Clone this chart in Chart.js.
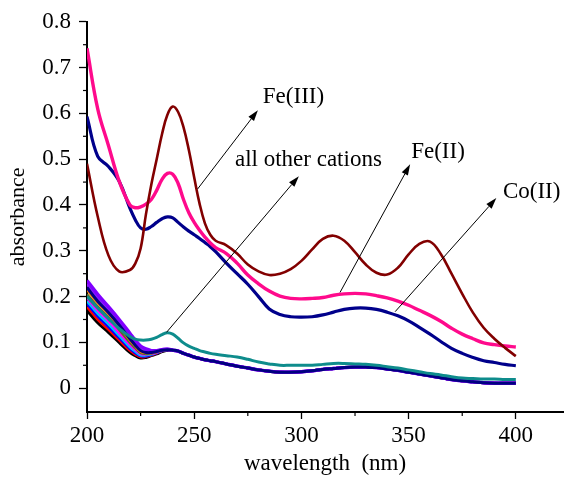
<!DOCTYPE html>
<html lang="en">
<head>
<meta charset="utf-8">
<title>Absorbance spectra</title>
<script src="https://cdn.jsdelivr.net/npm/chart.js@4.4.1/dist/chart.umd.min.js"></script>
<style>
    html, body { margin: 0; padding: 0; background: #fff; }
    #wrap { width: 564px; height: 478px; }
</style>
</head>
<body>
<div id="wrap"><canvas id="spectra" width="564" height="478"></canvas></div>
<script>
// wavelength grid (nm), finer around the 240 nm band
const wavelengths = [200, 205, 210, 215, 220, 222.5, 225, 227.5, 230, 232.5, 235, 237.5, 240, 242.5, 245, 247.5, 250, 252.5, 255, 257.5,
    260, 265, 270, 275, 280, 285, 290, 295, 300, 305, 310, 315, 320, 325, 330, 335, 340, 345, 350, 355, 360, 365, 370, 375, 380, 385, 390, 395, 400];

const fe3 = [0.49, 0.375, 0.29, 0.255, 0.258, 0.272, 0.305, 0.38, 0.445, 0.5, 0.555, 0.597, 0.615, 0.603, 0.57, 0.52, 0.46, 0.403, 0.36, 0.335,
    0.322, 0.312, 0.294, 0.27, 0.255, 0.247, 0.25, 0.26, 0.278, 0.303, 0.326, 0.333, 0.322, 0.297, 0.27, 0.252, 0.248, 0.263, 0.292, 0.315,
    0.32, 0.293, 0.25, 0.206, 0.165, 0.132, 0.108, 0.088, 0.07];
const fe2 = [0.742, 0.61, 0.53, 0.452, 0.40, 0.394, 0.396, 0.402, 0.412, 0.432, 0.456, 0.469, 0.467, 0.447, 0.412, 0.383, 0.362, 0.345, 0.33, 0.317,
    0.307, 0.294, 0.273, 0.247, 0.228, 0.212, 0.201, 0.196, 0.195, 0.196, 0.198, 0.203, 0.206, 0.207, 0.206, 0.202, 0.197, 0.19, 0.181, 0.17,
    0.159, 0.146, 0.131, 0.118, 0.108, 0.099, 0.095, 0.092, 0.09];
const co2 = [0.593, 0.506, 0.484, 0.452, 0.393, 0.368, 0.35, 0.347, 0.353, 0.362, 0.37, 0.374, 0.372, 0.362, 0.352, 0.343, 0.335, 0.327, 0.318, 0.309,
    0.298, 0.273, 0.25, 0.227, 0.2, 0.173, 0.161, 0.156, 0.155, 0.156, 0.16, 0.166, 0.172, 0.175, 0.175, 0.172, 0.166, 0.158, 0.147, 0.133,
    0.118, 0.102, 0.087, 0.076, 0.067, 0.06, 0.056, 0.052, 0.049];
const tealCation = [0.2, 0.175, 0.152, 0.13, 0.113, 0.107, 0.105, 0.105, 0.107, 0.111, 0.117, 0.121, 0.118, 0.109, 0.099, 0.092, 0.087, 0.082, 0.079, 0.076,
    0.074, 0.071, 0.068, 0.063, 0.057, 0.053, 0.05, 0.05, 0.05, 0.05, 0.052, 0.054, 0.054, 0.053, 0.052, 0.05, 0.047, 0.044, 0.04, 0.036,
    0.032, 0.029, 0.025, 0.022, 0.021, 0.02, 0.02, 0.019, 0.019];

// other cations: separate starts (200-237.5 nm), common tail (240-400 nm)
const otherTail = [0.083, 0.081, 0.076, 0.072, 0.068, 0.065, 0.062, 0.06, 0.058, 0.053, 0.048, 0.044, 0.04, 0.037, 0.035, 0.035, 0.036, 0.038, 0.041,
    0.043, 0.045, 0.046, 0.046, 0.045, 0.042, 0.039, 0.035, 0.031, 0.027, 0.023, 0.019, 0.016, 0.014, 0.012, 0.011, 0.011, 0.011];
const navyHead    = [0.22, 0.19, 0.165, 0.138, 0.108, 0.094, 0.082, 0.078, 0.078, 0.08, 0.083, 0.084];
const violetHead  = [0.235, 0.205, 0.178, 0.15, 0.12, 0.105, 0.092, 0.086, 0.082, 0.082, 0.084, 0.085];
const violet2Head = [0.228, 0.198, 0.172, 0.145, 0.115, 0.1, 0.088, 0.083, 0.08, 0.081, 0.084, 0.085];
const orangeHead  = [0.215, 0.186, 0.162, 0.135, 0.105, 0.092, 0.08, 0.077, 0.077, 0.079, 0.083, 0.084];
const oliveHead   = [0.205, 0.178, 0.155, 0.128, 0.1, 0.088, 0.077, 0.075, 0.076, 0.079, 0.082, 0.084];
const magentaHead = [0.197, 0.17, 0.147, 0.121, 0.095, 0.084, 0.075, 0.074, 0.075, 0.078, 0.082, 0.084];
const cyanHead    = [0.19, 0.163, 0.14, 0.115, 0.09, 0.08, 0.072, 0.072, 0.074, 0.078, 0.082, 0.084];
const blueHead    = [0.184, 0.157, 0.134, 0.11, 0.086, 0.077, 0.07, 0.07, 0.073, 0.077, 0.081, 0.083];
const redHead     = [0.177, 0.15, 0.128, 0.105, 0.082, 0.074, 0.068, 0.069, 0.072, 0.076, 0.081, 0.083];
const blackHead   = [0.17, 0.143, 0.122, 0.1, 0.078, 0.071, 0.066, 0.067, 0.071, 0.075, 0.08, 0.083];

const xTicks = [200, 250, 300, 350, 400];
const xMinorTicks = [225, 275, 325, 375];
const yTicks = [0, 0.1, 0.2, 0.3, 0.4, 0.5, 0.6, 0.7, 0.8];
const yMinorTicks = [0.05, 0.15, 0.25, 0.35, 0.45, 0.55, 0.65, 0.75];

const notes = [
    { text: 'Fe(III)', x: 282, y: 0.623, from: [251.6, 0.435], to: [279.7, 0.607] },
    { text: 'all other cations', x: 269, y: 0.485, from: [237.1, 0.122], to: [298.8, 0.463] },
    { text: 'Fe(II)', x: 351.2, y: 0.503, from: [318, 0.209], to: [350.7, 0.489] },
    { text: 'Co(II)', x: 394, y: 0.416, from: [343.7, 0.167], to: [390.9, 0.415] }
];

const serif = "'Liberation Serif', 'Times New Roman', serif";

function pts(ys) {
    return ys.map(function (v, i) { return { x: wavelengths[i], y: v }; });
}

function line(ys, color, width) {
    return {
        data: pts(ys),
        borderColor: color,
        borderWidth: width,
        pointRadius: 0,
        fill: false,
        tension: 0.4
    };
}

// first dataset ends up on top
const datasets = [
    line(fe3, '#820000', 2.6),
    line(fe2, '#ff0a8c', 3.4),
    line(co2, '#00008b', 3.2),
    line(tealCation, '#0e8c8c', 3),
    line(navyHead.concat(otherTail), '#000080', 3),
    line(violetHead.concat(otherTail), '#8000ff', 3.4),
    line(violet2Head.concat(otherTail), '#8c1aff', 3.4),
    line(orangeHead.concat(otherTail), '#ff8000', 2.6),
    line(oliveHead.concat(otherTail), '#556b2f', 2.6),
    line(magentaHead.concat(otherTail), '#ff00ff', 2.6),
    line(cyanHead.concat(otherTail), '#00bfff', 2.6),
    line(blueHead.concat(otherTail), '#0000ff', 2.6),
    line(redHead.concat(otherTail), '#ff0000', 2.6),
    line(blackHead.concat(otherTail), '#000000', 3)
];

const extras = {
    id: 'extras',
    afterDraw: function (chart) {
        const ctx = chart.ctx;
        const xs = chart.scales.x, ys = chart.scales.y;
        const area = chart.chartArea;
        ctx.save();
        // minor ticks
        ctx.strokeStyle = '#000';
        ctx.lineWidth = 1.2;
        xMinorTicks.forEach(function (v) {
            const px = xs.getPixelForValue(v);
            ctx.beginPath();
            ctx.moveTo(px, area.bottom);
            ctx.lineTo(px, area.bottom + 4);
            ctx.stroke();
        });
        yMinorTicks.forEach(function (v) {
            const py = ys.getPixelForValue(v);
            ctx.beginPath();
            ctx.moveTo(area.left, py);
            ctx.lineTo(area.left - 4, py);
            ctx.stroke();
        });
        // arrows + labels
        ctx.lineWidth = 1;
        ctx.fillStyle = '#000';
        ctx.font = '23px ' + serif;
        ctx.textAlign = 'left';
        ctx.textBaseline = 'alphabetic';
        notes.forEach(function (n) {
            const x1 = xs.getPixelForValue(n.from[0]), y1 = ys.getPixelForValue(n.from[1]);
            const x2 = xs.getPixelForValue(n.to[0]), y2 = ys.getPixelForValue(n.to[1]);
            const a = Math.atan2(y2 - y1, x2 - x1);
            const len = 11, half = 3.5;
            const bx = x2 - len * Math.cos(a), by = y2 - len * Math.sin(a);
            ctx.beginPath();
            ctx.moveTo(x1, y1);
            ctx.lineTo(bx, by);
            ctx.stroke();
            ctx.beginPath();
            ctx.moveTo(x2, y2);
            ctx.lineTo(bx + half * Math.sin(a), by - half * Math.cos(a));
            ctx.lineTo(bx - half * Math.sin(a), by + half * Math.cos(a));
            ctx.closePath();
            ctx.fill();
            ctx.fillText(n.text, xs.getPixelForValue(n.x), ys.getPixelForValue(n.y));
        });
        ctx.restore();
    }
};

new Chart(document.getElementById('spectra'), {
    type: 'line',
    data: { datasets: datasets },
    options: {
        responsive: false,
        animation: false,
        layout: { padding: { top: 20, right: 1, left: 0, bottom: 0 } },
        plugins: {
            legend: { display: false },
            tooltip: { enabled: false }
        },
        scales: {
            x: {
                type: 'linear',
                min: 200,
                max: 422,
                afterBuildTicks: function (s) { s.ticks = xTicks.map(function (v) { return { value: v }; }); },
                afterFit: function (s) { s.height = 66; },
                ticks: {
                    color: '#000',
                    font: { family: serif, size: 23 },
                    padding: 3,
                    maxRotation: 0,
                    autoSkip: false,
                    callback: function (v) { return String(v); }
                },
                grid: { drawOnChartArea: false, drawTicks: true, tickLength: 7, tickColor: '#000', tickWidth: 1.3 },
                border: { color: '#000', width: 2 },
                title: {
                    display: true,
                    text: 'wavelength  (nm)',
                    color: '#000',
                    font: { family: serif, size: 23 },
                    padding: { top: 0, bottom: 0 }
                }
            },
            y: {
                min: -0.052,
                max: 0.8,
                afterBuildTicks: function (s) { s.ticks = yTicks.map(function (v) { return { value: v }; }); },
                afterFit: function (s) { s.width = 87; },
                ticks: {
                    color: '#000',
                    font: { family: serif, size: 23 },
                    padding: 8,
                    callback: function (v) { return v === 0 ? '0' : v.toFixed(1); }
                },
                grid: { drawOnChartArea: false, drawTicks: true, tickLength: 8, tickColor: '#000', tickWidth: 1.3 },
                border: { color: '#000', width: 2 },
                title: {
                    display: true,
                    text: 'absorbance',
                    color: '#000',
                    font: { family: serif, size: 22 },
                    padding: { top: 5, bottom: 0 }
                }
            }
        }
    },
    plugins: [extras]
});
</script>
</body>
</html>
